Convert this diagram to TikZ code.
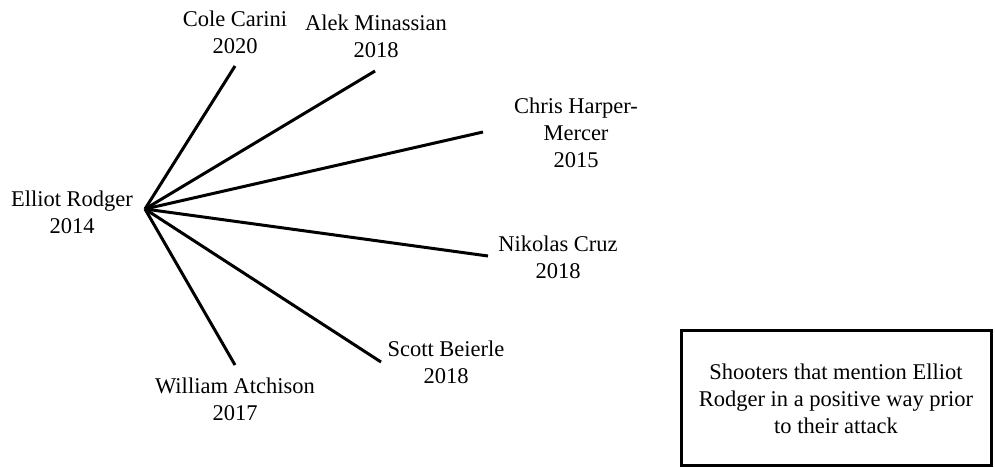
\documentclass[tikz,border=0pt]{standalone}
\usepackage{fontspec}
\setmainfont{Liberation Serif}
\begin{document}
\begin{tikzpicture}[x=1pt,y=-1pt,
  lbl/.style={align=center,inner sep=0pt,anchor=base,font=\fontsize{22.5}{27}\selectfont},
  spoke/.style={line width=3pt,black},
  legend/.style={draw,line width=2.5pt,inner sep=0pt}]
\useasboundingbox (0,0) rectangle (995,468);
\coordinate (hub) at (145,209);
\node[lbl] (er) at (72,233) {Elliot Rodger\\2014};
\node[lbl] (cc) at (235,54) {Cole Carini\\2020};
\node[lbl] (am) at (376,58) {Alek Minassian\\2018};
\node[lbl] (ch) at (576,167) {Chris Harper-\\Mercer\\2015};
\node[lbl] (nc) at (558,278) {Nikolas Cruz\\2018};
\node[lbl] (sb) at (446,383) {Scott Beierle\\2018};
\node[lbl] (wa) at (235,420) {William Atchison\\2017};
\node[legend,minimum width=310pt,minimum height=135pt] (box) at (836.5,398) {};
\node[lbl] (boxtext) at (836,433) {Shooters that mention Elliot\\Rodger in a positive way prior\\to their attack};
\coordinate (ecc) at (235,66);
\coordinate (eam) at (375,71);
\coordinate (ech) at (483,132);
\coordinate (enc) at (488,256);
\coordinate (esb) at (381,362);
\coordinate (ewa) at (235,365);
\foreach \e in {ecc,eam,ech,enc,esb,ewa} \draw[spoke] (hub) -- (\e);
\end{tikzpicture}
\end{document}
